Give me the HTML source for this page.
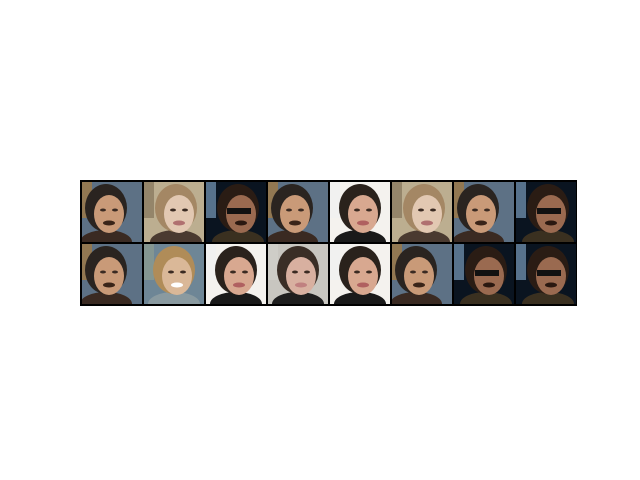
<!DOCTYPE html>
<html><head><meta charset="utf-8"><style>
html,body{margin:0;padding:0;background:#fff;width:640px;height:480px;overflow:hidden}
svg{position:absolute;left:0;top:0}
</style></head><body>
<svg id="s" width="640" height="480">
<defs id="d"></defs>
<rect x="80" y="180" width="497" height="126" fill="#000"/>
<g id="g"></g>
</svg>
<script>
const row1 = ['A','B','C','A','D','B','A','C'];
const row2 = ['A','F','D','E','D','A','C','C'];
const rows = [row1,row2];
const NS='http://www.w3.org/2000/svg';
const g=document.getElementById('g');
const defs=document.getElementById('d');
function el(t,a,p){const e=document.createElementNS(NS,t);for(const k in a)e.setAttribute(k,a[k]);(p||g).appendChild(e);return e;}
const styles={
A:{bg:'#5d7185',strip:'#a07a45',hair:'#2a2420',skin:'#c99a78',fx:-6,mouth:'#3a2418',body:'#3a2a22'},
B:{bg:'#bcae90',strip:'#8a7a60',hair:'#a48764',skin:'#e2c8b2',fx:2,mouth:'#b07070',body:'#4a3a30'},
C:{bg:'#0a1420',strip:'#6a8aa8',hair:'#2a1c14',skin:'#9a6a50',fx:2,mouth:'#2a1810',body:'#3a3020',glasses:1},
D:{bg:'#f4f2ee',strip:'#f0f0f0',hair:'#2a221c',skin:'#d8a890',fx:0,mouth:'#b06060',body:'#1a1a1a'},
E:{bg:'#c8c6c0',strip:'#d0cec8',hair:'#3a2e26',skin:'#d8b0a0',fx:0,mouth:'#c08080',body:'#1e1e1e'},
F:{bg:'#6e8696',strip:'#8a9a90',hair:'#b08c58',skin:'#dab898',fx:0,mouth:'#ffffff',body:'#8a9aa0'}
};
rows.forEach((r,ri)=>r.forEach((t,ci)=>{
 const x=82+ci*62, y=182+ri*62, w=60, h=60, s=styles[t];
 const id='clip'+ri+'_'+ci;
 const cp=el('clipPath',{id:id},defs);
 el('rect',{x:x,y:y,width:w,height:h},cp);
 const c=el('g',{'clip-path':'url(#'+id+')'});
 
 
 el('rect',{x:x,y:y,width:w,height:h,fill:s.bg},c);
 el('rect',{x:x,y:y,width:10,height:h*0.6,fill:s.strip,opacity:0.8},c);
 const cx=x+30+s.fx, cy=y+30;
 el('ellipse',{cx:cx,cy:y+h,rx:26,ry:12,fill:s.body},c);
 el('ellipse',{cx:cx,cy:cy-4,rx:21,ry:24,fill:s.hair},c);
 el('ellipse',{cx:cx+3,cy:cy+2,rx:15,ry:19,fill:s.skin},c);
 if(s.glasses){el('rect',{x:cx-11,y:cy-4,width:24,height:6,fill:'#111'},c);}
 else{el('ellipse',{cx:cx-3,cy:cy-2,rx:3,ry:1.5,fill:'#3a2a22'},c);el('ellipse',{cx:cx+9,cy:cy-2,rx:3,ry:1.5,fill:'#3a2a22'},c);}
 el('ellipse',{cx:cx+3,cy:cy+11,rx:6,ry:2.5,fill:s.mouth},c);
}));
</script>
</body></html>
